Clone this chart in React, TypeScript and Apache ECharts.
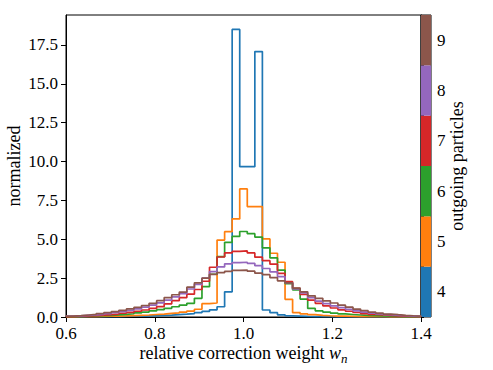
import React, { useEffect, useRef } from "react";
import * as echarts from "echarts";

// ---- binning of the histograms (47 equal bins between 0.6 and 1.4) ----
const BIN_MIN = 0.6;
const BIN_MAX = 1.4;
const BIN_COUNT = 47;

// ---- categories ----
const particleCounts = ["4", "5", "6", "7", "8", "9"];
const seriesColors = ["#1f77b4", "#ff7f0e", "#2ca02c", "#d62728", "#9467bd", "#8c564b"];

// ---- normalized histogram values per bin ----
const hist4 = [
  0.01, 0.01, 0.02, 0.02, 0.02, 0.03, 0.03, 0.04, 0.05, 0.06,
  0.07, 0.08, 0.1, 0.12, 0.15, 0.18, 0.22, 0.28, 0.36, 0.46,
  0.66, 1.62, 18.5, 9.67, 9.67, 17.07, 0.45, 0.28, 0.14, 0.08,
  0.06, 0.04, 0.03, 0.02, 0.02, 0.01, 0.01, 0.01, 0.01, 0.0,
  0.0, 0.0, 0.0, 0.0, 0.0, 0.0, 0.0,
];
const hist5 = [
  0.01, 0.02, 0.02, 0.03, 0.04, 0.05, 0.06, 0.07, 0.09, 0.11,
  0.13, 0.16, 0.19, 0.23, 0.27, 0.32, 0.38, 0.5, 0.86, 0.9,
  4.95, 5.49, 6.31, 8.24, 7.1, 7.1, 5.02, 4.1, 3.52, 1.14,
  0.28, 0.2, 0.15, 0.11, 0.08, 0.06, 0.05, 0.04, 0.03, 0.03,
  0.02, 0.02, 0.01, 0.01, 0.01, 0.01, 0.01,
];
const hist6 = [
  0.03, 0.04, 0.05, 0.07, 0.09, 0.11, 0.14, 0.17, 0.21, 0.26,
  0.32, 0.39, 0.47, 0.56, 0.66, 0.77, 0.88, 1.2, 1.95, 2.75,
  3.88, 4.8, 5.18, 5.5, 5.36, 5.14, 4.45, 3.8, 3.02, 2.15,
  1.75, 1.15, 0.55, 0.4, 0.32, 0.25, 0.2, 0.16, 0.13, 0.1,
  0.08, 0.07, 0.05, 0.04, 0.03, 0.03, 0.02,
];
const hist7 = [
  0.03, 0.05, 0.07, 0.09, 0.12, 0.15, 0.19, 0.24, 0.3, 0.37,
  0.45, 0.55, 0.67, 0.85, 1.05, 1.25, 1.47, 1.77, 2.3, 3.2,
  3.86, 4.12, 4.22, 4.25, 4.12, 3.85, 3.62, 3.4, 2.8, 2.27,
  1.84, 1.45, 1.08, 0.88, 0.72, 0.58, 0.46, 0.37, 0.29, 0.22,
  0.17, 0.13, 0.1, 0.07, 0.05, 0.04, 0.03,
];
const hist8 = [
  0.05, 0.07, 0.1, 0.13, 0.17, 0.22, 0.28, 0.35, 0.43, 0.52,
  0.63, 0.76, 0.91, 1.09, 1.3, 1.5, 1.8, 2.1, 2.5, 2.92,
  3.22, 3.42, 3.5, 3.52, 3.45, 3.3, 3.12, 2.9, 2.6, 2.2,
  1.8, 1.55, 1.24, 1.02, 0.86, 0.72, 0.6, 0.49, 0.4, 0.32,
  0.25, 0.2, 0.15, 0.11, 0.08, 0.06, 0.04,
];
const hist9 = [
  0.06, 0.09, 0.13, 0.17, 0.22, 0.28, 0.35, 0.43, 0.52, 0.62,
  0.74, 0.88, 1.05, 1.25, 1.43, 1.6, 1.92, 2.2, 2.5, 2.74,
  2.85, 2.94, 3.0, 3.02, 2.95, 2.82, 2.72, 2.53, 2.33, 2.2,
  1.86, 1.62, 1.36, 1.2, 1.04, 0.9, 0.76, 0.63, 0.51, 0.41,
  0.32, 0.25, 0.19, 0.15, 0.11, 0.08, 0.06,
];
const histograms = [hist4, hist5, hist6, hist7, hist8, hist9];

// ---- axes ----
const xTicks = [0.6, 0.8, 1.0, 1.2, 1.4];
const yTicks = [0, 2.5, 5, 7.5, 10, 12.5, 15, 17.5];
const Y_MAX = 19.425;

const xTitle = "relative correction weight ";
const xTitleVar = "w";
const xTitleSub = "n";
const yTitle = "normalized";
const cbTitle = "outgoing particles";

const SERIF = "serif";

// layout
const GRID_LEFT = 66;
const GRID_TOP = 15;
const GRID_W = 355;
const GRID_H = 302;
const CB_W = 10;

function stepPoints(values: number[]): number[][] {
  const w = (BIN_MAX - BIN_MIN) / BIN_COUNT;
  const pts: number[][] = [[BIN_MIN, 0]];
  values.forEach((v, i) => pts.push([BIN_MIN + i * w, v]));
  pts.push([BIN_MAX, values[values.length - 1]]);
  pts.push([BIN_MAX, 0]);
  return pts;
}

function measure(text: string, font: string): number {
  const c = document.createElement("canvas").getContext("2d");
  if (!c) return text.length * 8;
  c.font = font;
  return c.measureText(text).width;
}

export default function App() {
  const ref = useRef<HTMLDivElement>(null);
  useEffect(() => {
    if (!ref.current) return;
    const chart = echarts.init(ref.current, undefined, { renderer: "svg" });

    const wMain = measure(xTitle, `18px ${SERIF}`);
    const wVar = measure(xTitleVar, `italic 18px ${SERIF}`);
    const wSub = measure(xTitleSub, `italic 13px ${SERIF}`);
    const total = wMain + wVar + wSub;
    const cx = GRID_LEFT + GRID_W / 2;
    const x0 = cx - total / 2;
    const titleY = 353;

    const txt = (size: number, italic = false) => ({
      fontFamily: SERIF,
      fontSize: size,
      fontStyle: italic ? "italic" : "normal",
      fill: "#000",
    });

    const option: any = {
      animation: false,
      backgroundColor: "#ffffff",
      textStyle: { fontFamily: SERIF },
      grid: [
        { left: GRID_LEFT, top: GRID_TOP, width: GRID_W, height: GRID_H, show: true, borderColor: "#000", borderWidth: 1, backgroundColor: "transparent" },
        { left: GRID_LEFT + GRID_W, top: GRID_TOP, width: CB_W, height: GRID_H, show: true, borderColor: "#000", borderWidth: 1, backgroundColor: "transparent" },
      ],
      xAxis: [
        {
          type: "value",
          gridIndex: 0,
          min: BIN_MIN,
          max: BIN_MAX,
          axisLine: { show: true, lineStyle: { color: "#000", width: 1 } },
          axisTick: { show: true, length: 5, customValues: xTicks, lineStyle: { color: "#000", width: 1 } },
          axisLabel: {
            customValues: xTicks,
            formatter: (v: number) => v.toFixed(1),
            color: "#000",
            fontFamily: SERIF,
            fontSize: 17,
            margin: 8,
          },
          splitLine: { show: false },
        },
        { type: "value", gridIndex: 1, min: 0, max: 1, show: false },
      ],
      yAxis: [
        {
          type: "value",
          gridIndex: 0,
          min: 0,
          max: Y_MAX,
          axisLine: { show: true, lineStyle: { color: "#000", width: 1 } },
          axisTick: { show: true, length: 5, customValues: yTicks, lineStyle: { color: "#000", width: 1 } },
          axisLabel: {
            customValues: yTicks,
            formatter: (v: number) => v.toFixed(1),
            color: "#000",
            fontFamily: SERIF,
            fontSize: 17,
            margin: 8,
          },
          splitLine: { show: false },
        },
        {
          type: "category",
          gridIndex: 1,
          position: "right",
          data: particleCounts,
          axisLine: { show: true, lineStyle: { color: "#000", width: 1 } },
          axisTick: { show: true, length: 3, alignWithLabel: false, lineStyle: { color: "#000", width: 1 } },
          axisLabel: { color: "#000", fontFamily: SERIF, fontSize: 17, margin: 6 },
          splitLine: { show: false },
        },
      ],
      series: [
        ...histograms.map((h, i) => ({
          type: "line",
          name: particleCounts[i],
          xAxisIndex: 0,
          yAxisIndex: 0,
          step: "end",
          showSymbol: false,
          symbol: "none",
          data: stepPoints(h),
          lineStyle: { color: seriesColors[i], width: 1.7 },
          itemStyle: { color: seriesColors[i] },
          z: 2 + i,
        })),
        {
          type: "bar",
          xAxisIndex: 1,
          yAxisIndex: 1,
          barCategoryGap: "0%",
          data: particleCounts.map((_, i) => ({ value: 1, itemStyle: { color: seriesColors[i] } })),
          z: 1,
        },
      ],
      graphic: [
        {
          type: "text",
          x: x0,
          y: titleY,
          style: { text: xTitle, ...txt(18), textAlign: "left", textVerticalAlign: "middle" },
        },
        {
          type: "text",
          x: x0 + wMain,
          y: titleY,
          style: { text: xTitleVar, ...txt(18, true), textAlign: "left", textVerticalAlign: "middle" },
        },
        {
          type: "text",
          x: x0 + wMain + wVar,
          y: titleY + 5,
          style: { text: xTitleSub, ...txt(13, true), textAlign: "left", textVerticalAlign: "middle" },
        },
        {
          type: "text",
          x: 14,
          y: GRID_TOP + GRID_H / 2,
          rotation: Math.PI / 2,
          style: { text: yTitle, ...txt(18), textAlign: "center", textVerticalAlign: "middle" },
        },
        {
          type: "text",
          x: 457,
          y: GRID_TOP + GRID_H / 2,
          rotation: Math.PI / 2,
          style: { text: cbTitle, ...txt(18), textAlign: "center", textVerticalAlign: "middle" },
        },
      ],
    };
    chart.setOption(option);
    return () => chart.dispose();
  }, []);
  return (
    <div
      ref={ref}
      style={{ position: "fixed", left: 0, top: 0, width: 493, height: 370, background: "#fff" }}
    />
  );
}
